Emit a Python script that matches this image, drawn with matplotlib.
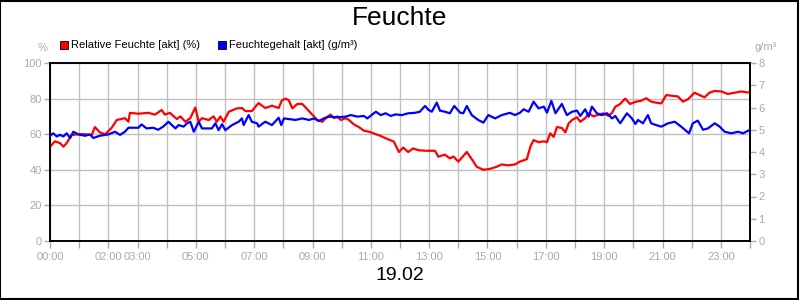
import numpy as np
import matplotlib.pyplot as plt
from matplotlib.patches import Rectangle

plt.rcParams['font.family'] = ['Liberation Sans', 'DejaVu Sans']

#----------------------------------------------------------
# Data (hours of day)
#----------------------------------------------------------
rh_hours = [0.00, 0.17, 0.34, 0.46, 0.57, 0.74, 0.97, 1.20, 1.43, 1.54, 1.71, 1.89,
            2.11, 2.29, 2.57, 2.69, 2.74, 3.03, 3.37, 3.60, 3.83, 3.94, 4.11,
            4.35, 4.47, 4.64, 4.81, 4.98, 5.10, 5.21, 5.44, 5.61, 5.72, 5.84, 5.95,
            6.13, 6.41, 6.58, 6.70, 6.92, 7.15, 7.38, 7.61, 7.84, 7.95, 8.08,
            8.19, 8.31, 8.48, 8.65, 8.88, 9.05, 9.16, 9.34, 9.45, 9.62, 9.74, 9.85,
            9.97, 10.14, 10.25, 10.42, 10.59, 10.76, 10.94, 11.17, 11.34, 11.51,
            11.79, 11.96, 12.11, 12.28, 12.45, 12.63, 12.86, 13.20, 13.31, 13.54,
            13.71, 13.83, 14.00, 14.29, 14.46, 14.63, 14.86, 15.08, 15.31, 15.49,
            15.71, 15.94, 16.11, 16.35, 16.47, 16.58, 16.75, 16.93, 17.04, 17.15,
            17.27, 17.38, 17.55, 17.67, 17.78, 17.90, 18.07, 18.18, 18.35, 18.47,
            18.64, 18.81, 18.98, 19.15, 19.27, 19.38, 19.55, 19.72, 19.89, 20.10,
            20.27, 20.44, 20.61, 20.78, 20.96, 21.13, 21.36, 21.53, 21.70, 21.87,
            22.10, 22.27, 22.44, 22.61, 22.79, 23.02, 23.24, 23.47, 23.70, 23.99]
rh_values = [53, 56, 55, 53, 55, 59.5, 60, 60, 59.5, 64, 61, 60,
             63.5, 68, 69, 67, 72, 71.5, 72, 71, 73.6, 71, 72,
             68.5, 70, 67, 69, 75, 67, 69, 68, 70, 67, 70, 67,
             72.6, 74.5, 74.7, 73, 73, 77.5, 74.7, 76, 74.7, 79, 80,
             79, 74.5, 77, 77, 73, 70, 68, 67, 69, 71, 69, 70,
             68, 69, 68, 65.5, 64, 62, 61.4, 60, 59, 57.7,
             55.8, 50, 52.5, 50, 52, 51, 50.7, 50.7, 47.4, 48.5,
             46.4, 47.5, 44.6, 50, 46, 41.7, 40, 40.5, 41.7, 43,
             42.5, 43, 44.6, 46, 53, 56.7, 55.5, 56, 55.5, 60.5,
             58.5, 64, 63.5, 61, 66, 68, 69.5, 67, 69, 71.7,
             70, 71, 71.7, 70.3, 72, 75.4, 77, 80, 77, 78.3,
             78.8, 80.2, 78.3, 77.7, 77.3, 82, 81.5, 81.2, 78.3, 79.6,
             83.3, 82, 80.7, 83.3, 84.3, 84, 82.6, 83.3, 84, 83.3]

ah_hours = [0.00, 0.11, 0.23, 0.34, 0.46, 0.57, 0.69, 0.80, 0.97, 1.20, 1.37, 1.49,
            1.71, 2.00, 2.23, 2.40, 2.57, 2.69, 3.03, 3.14, 3.31, 3.54, 3.71, 3.89,
            4.06, 4.30, 4.41, 4.58, 4.70, 4.81, 4.93, 5.10, 5.21, 5.55, 5.67, 5.78,
            5.90, 6.01, 6.24, 6.47, 6.58, 6.64, 6.81, 6.92, 7.10, 7.15, 7.38, 7.61,
            7.84, 7.93, 8.02, 8.19, 8.42, 8.65, 8.88, 9.05, 9.22, 9.39, 9.56, 9.85,
            10.14, 10.31, 10.54, 10.76, 10.88, 11.17, 11.34, 11.51, 11.68, 11.85,
            12.06, 12.28, 12.51, 12.68, 12.86, 12.97, 13.09, 13.26, 13.37, 13.54,
            13.71, 13.86, 14.06, 14.17, 14.29, 14.46, 14.68, 14.86, 15.03, 15.26,
            15.49, 15.77, 15.94, 16.11, 16.24, 16.41, 16.58, 16.75, 16.93, 17.04,
            17.19, 17.33, 17.55, 17.72, 17.90, 18.07, 18.18, 18.35, 18.47, 18.58,
            18.75, 18.92, 19.10, 19.27, 19.38, 19.55, 19.78, 19.95, 20.07, 20.16,
            20.33, 20.50, 20.61, 20.78, 20.96, 21.19, 21.42, 21.64, 21.91, 22.04,
            22.21, 22.39, 22.56, 22.79, 22.96, 23.13, 23.36, 23.59, 23.76, 23.99]
ah_values = [4.73, 4.84, 4.70, 4.77, 4.70, 4.84, 4.63, 4.91, 4.79, 4.73, 4.79, 4.63,
             4.73, 4.79, 4.91, 4.77, 4.91, 5.09, 5.09, 5.24, 5.06, 5.09, 5.00, 5.15,
             5.36, 5.06, 5.21, 5.14, 5.29, 5.36, 4.91, 5.36, 5.06, 5.06, 5.29, 4.98,
             5.25, 4.98, 5.21, 5.36, 5.51, 5.21, 5.66, 5.36, 5.29, 5.14, 5.36, 5.21,
             5.54, 5.21, 5.51, 5.48, 5.44, 5.51, 5.44, 5.51, 5.39, 5.51, 5.59, 5.56,
             5.59, 5.66, 5.59, 5.62, 5.51, 5.81, 5.66, 5.74, 5.62, 5.69,
             5.66, 5.74, 5.76, 5.81, 6.07, 5.90, 5.81, 6.22, 5.86, 5.81,
             5.74, 6.07, 5.77, 5.74, 6.07, 5.66, 5.44, 5.32, 5.66, 5.51,
             5.66, 5.76, 5.66, 5.76, 5.92, 5.81, 6.26, 5.96, 6.04, 5.77,
             6.30, 5.74, 6.16, 5.66, 5.81, 5.86, 5.62, 5.92, 5.59, 6.04,
             5.74, 5.66, 5.74, 5.51, 5.62, 5.29, 5.74, 5.51, 5.26, 5.44,
             5.29, 5.66, 5.29, 5.21, 5.14, 5.29, 5.36, 5.14, 4.84, 5.29,
             5.41, 5.00, 5.06, 5.29, 5.14, 4.91, 4.84, 4.91, 4.84, 4.99]

tick_hours = list(range(25))
label_hours = [0, 2, 3, 5, 7, 9, 11, 13, 15, 17, 19, 21, 23]
left_ticks = [0, 20, 40, 60, 80, 100]
right_ticks = [0, 1, 2, 3, 4, 5, 6, 7, 8]

#----------------------------------------------------------
# Figure
#----------------------------------------------------------
GRAY = '#aaaaaa'
GRID = '#c0c0c0'

fig = plt.figure(figsize=(8, 3), dpi=100)
fig.patches.append(Rectangle((0.0006, 0.0017), 0.9975, 0.9950, transform=fig.transFigure,
                             fill=False, edgecolor='black', linewidth=1.5))

ax = fig.add_axes([50 / 800, 59 / 300, 700 / 800, 178 / 300])
ax2 = ax.twinx()

ax.plot(rh_hours, rh_values, color='#ff0000', linewidth=1.6, zorder=3)
ax2.plot(ah_hours, ah_values, color='#0000ff', linewidth=1.6, zorder=3)

ax.set_xlim(0, 24)
ax.set_ylim(0, 100)
ax2.set_ylim(0, 8)

ax.set_xticks(tick_hours)
ax.set_xticklabels(['%02d:00' % h if h in label_hours else '' for h in tick_hours])
ax.set_yticks(left_ticks)
ax2.set_yticks(right_ticks)

ax.grid(True, color=GRID, linewidth=1.0)
ax.set_axisbelow(True)

for a in (ax, ax2):
    a.tick_params(colors=GRAY, labelsize=8, length=4, width=1, pad=2)
    for s in a.spines.values():
        s.set_color('black')
        s.set_linewidth(1.2)
ax.tick_params(axis='x', length=5, pad=3)

# unit labels
fig.text(43 / 800, 1 - 48 / 300, '%', color=GRAY, fontsize=8, ha='center', va='center')
fig.text(766 / 800, 1 - 47 / 300, 'g/m³', color=GRAY, fontsize=8, ha='center', va='center')

# legend
for x0, col, txt in [(60, '#ff0000', 'Relative Feuchte [akt] (%)'),
                     (218, '#0000ff', 'Feuchtegehalt [akt] (g/m³)')]:
    fig.patches.append(Rectangle((x0 / 800, 1 - 49 / 300), 8 / 800, 8 / 300,
                                 transform=fig.transFigure, facecolor=col,
                                 edgecolor='black', linewidth=0.6))
    fig.text((x0 + 11) / 800, 1 - 45 / 300, txt, fontsize=8, color='black',
             ha='left', va='center')

fig.text(0.5, 1 - 18 / 300, 'Feuchte', fontsize=19, ha='center', va='center')
fig.text(0.5, 1 - 275 / 300, '19.02', fontsize=14, ha='center', va='center')

fig.savefig('out.png', dpi=100)
